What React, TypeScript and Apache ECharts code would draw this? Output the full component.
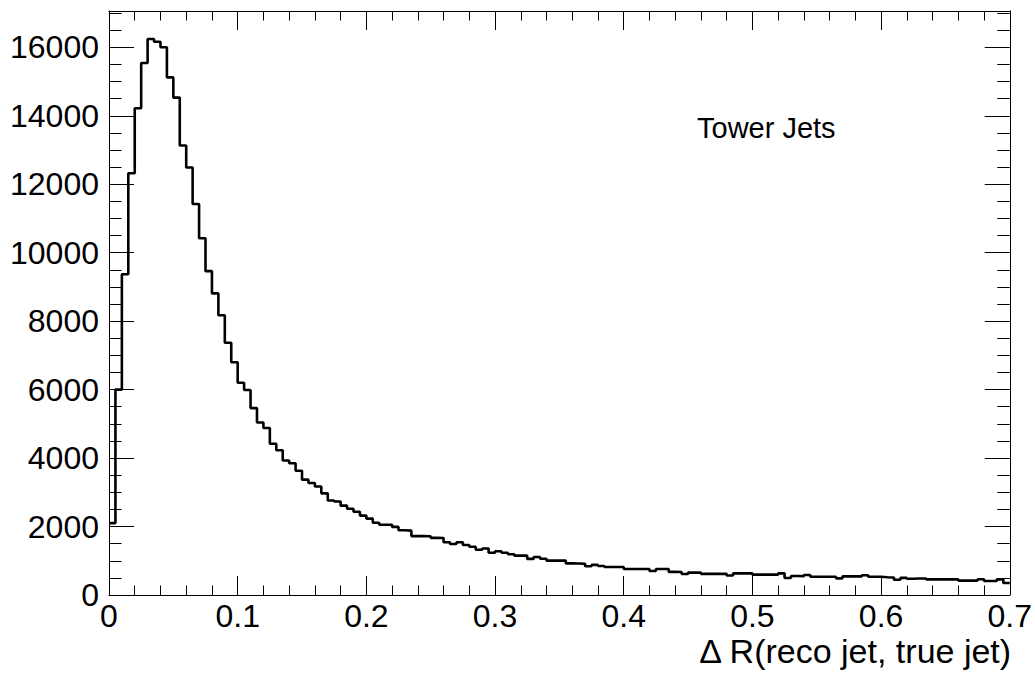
import React, { useEffect, useRef } from "react";
import * as echarts from "echarts";

// Histogram: 140 bins of width 0.005 over [0, 0.7]
const BIN_WIDTH = 0.005;
const counts: number[] = [
  2100, 6000, 9370, 12320, 14220, 15540, 16240, 16160, 16000, 15120,
  14530, 13130, 12490, 11420, 10420, 9460, 8810, 8170, 7370, 6800,
  6200, 5990, 5460, 5040, 4880, 4420, 4230, 3930, 3850, 3630,
  3370, 3270, 3170, 2970, 2760, 2730, 2610, 2520, 2430, 2320,
  2230, 2110, 2050, 2050, 1990, 1890, 1880, 1720, 1720, 1715,
  1670, 1665, 1540, 1490, 1540, 1460, 1410, 1320, 1360, 1235,
  1280, 1235, 1190, 1150, 1150, 1055, 1110, 1060, 1005, 1005,
  1005, 925, 920, 915, 840, 880, 845, 817, 817, 817,
  759, 759, 759, 759, 700, 759, 759, 675, 670, 615,
  655, 655, 618, 618, 618, 618, 568, 632, 632, 632,
  595, 595, 595, 595, 632, 496, 553, 550, 583, 535,
  535, 535, 535, 486, 543, 543, 543, 578, 534, 534,
  520, 510, 447, 500, 476, 480, 480, 457, 457, 457,
  457, 457, 420, 420, 420, 460, 410, 410, 457, 350,
];

const xTickLabels = ["0", "0.1", "0.2", "0.3", "0.4", "0.5", "0.6", "0.7"];
const X_MIN = 0;
const X_MAX = 0.7;
const X_MAJOR = 0.1;
const Y_MIN = 0;
const Y_MAX = 17060;
const Y_MAJOR = 2000;
const Y_MINOR = 500;
const histLabel = "Tower Jets";
const xTitle = "\u0394 R(reco jet, true jet)";

const FONT = '"Liberation Sans", Arial, Helvetica, sans-serif';

export default function App() {
  const ref = useRef<HTMLDivElement>(null);
  useEffect(() => {
    const chart = echarts.init(ref.current!, null, { renderer: "svg" });
    const data: number[][] = counts.map((v, i) => [i * BIN_WIDTH, v]);
    data.push([counts.length * BIN_WIDTH, counts[counts.length - 1]]);

    const black = "#000";
    const baseX = (position: "bottom" | "top", showLabel: boolean) => ({
      type: "value",
      position,
      min: X_MIN,
      max: X_MAX,
      interval: X_MAJOR,
      axisLine: { show: true, onZero: false, lineStyle: { color: black, width: 1 } },
      axisTick: { show: true, inside: true, length: 19, lineStyle: { color: black, width: 1 } },
      minorTick: { show: true, splitNumber: 5, length: 9.5, lineStyle: { color: black, width: 1 } },
      splitLine: { show: false },
      minorSplitLine: { show: false },
      axisLabel: {
        show: showLabel,
        color: black,
        fontSize: 32,
        fontFamily: FONT,
        margin: 5,
        formatter: (v: number) => {
          const idx = Math.round(v / X_MAJOR);
          return Math.abs(idx * X_MAJOR - v) < 1e-6 ? xTickLabels[idx] ?? "" : "";
        },
      },
    });
    const baseY = (position: "left" | "right", interval: number, len: number, showLabel: boolean, showLine: boolean) => ({
      type: "value",
      position,
      min: Y_MIN,
      max: Y_MAX,
      interval,
      axisLine: { show: showLine, onZero: false, lineStyle: { color: black, width: 1 } },
      axisTick: { show: true, inside: true, length: len, lineStyle: { color: black, width: 1 } },
      splitLine: { show: false },
      axisLabel: {
        show: showLabel,
        color: black,
        fontSize: 32,
        fontFamily: FONT,
        margin: 10,
        formatter: (v: number) => (v % Y_MAJOR === 0 ? String(v) : ""),
      },
    });

    chart.setOption({
      animation: false,
      backgroundColor: "#fff",
      grid: { left: 109, top: 11, right: 22, bottom: 79, containLabel: false },
      xAxis: [baseX("bottom", true), baseX("top", false)],
      yAxis: [
        baseY("left", Y_MAJOR, 25, true, true),
        baseY("left", Y_MINOR, 12.5, false, false),
        baseY("right", Y_MAJOR, 25, false, true),
        baseY("right", Y_MINOR, 12.5, false, false),
      ],
      series: [
        {
          type: "line",
          step: "end",
          xAxisIndex: 0,
          yAxisIndex: 0,
          data,
          showSymbol: false,
          symbol: "none",
          lineStyle: { color: black, width: 2.6 },
          clip: true,
        },
      ],
      graphic: [
        {
          type: "text",
          left: 697,
          top: 113,
          style: { text: histLabel, fill: black, font: `29px ${FONT}` },
        },
        {
          type: "text",
          right: 22,
          top: 634,
          style: { text: xTitle, fill: black, font: `34px ${FONT}` },
        },
      ],
    });
    return () => chart.dispose();
  }, []);
  return (
    <div
      ref={ref}
      style={{ position: "fixed", left: 0, top: 0, width: 1035, height: 674, background: "#fff" }}
    />
  );
}
